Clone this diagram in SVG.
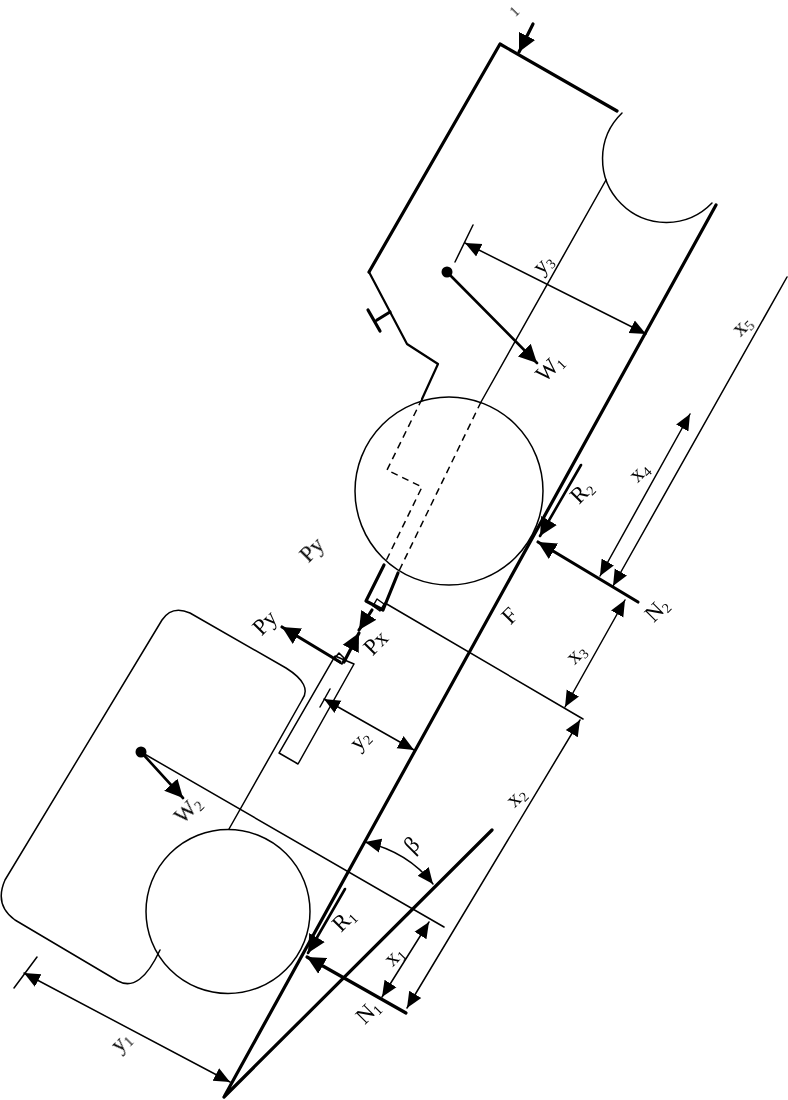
<svg xmlns="http://www.w3.org/2000/svg" width="788" height="1100" viewBox="0 0 788 1100">
<defs>
<style>
.t{fill:none;stroke:#000;stroke-width:1.5;stroke-linecap:round;stroke-linejoin:round}
.k{fill:none;stroke:#000;stroke-width:3.2;stroke-linecap:round;stroke-linejoin:round}
.m{fill:none;stroke:#000;stroke-width:2.6;stroke-linecap:round;stroke-linejoin:round}
.d{stroke-dasharray:7 5;stroke-linecap:butt}
.a{marker-end:url(#h);marker-start:url(#h)}
.e{marker-end:url(#h)}
.f{marker-end:url(#H)}
text{font-family:"Liberation Serif","Times New Roman",serif;font-size:23px;fill:#000;text-anchor:middle}
.s{font-size:14px}
#labels{opacity:.99}
</style>
<marker id="h" markerUnits="userSpaceOnUse" markerWidth="18" markerHeight="18" viewBox="0 0 18 18" refX="16" refY="9" orient="auto-start-reverse"><path d="M0 2L16 9L0 16Z"/></marker>
<marker id="H" markerUnits="userSpaceOnUse" markerWidth="20" markerHeight="20" viewBox="0 0 20 20" refX="18" refY="10" orient="auto"><path d="M0 1L18 10L0 19Z"/></marker>
</defs>
<g id="upper-body">
<path class="k" d="M617 111L500 44L369 272"/>
<path class="m" d="M369 272L407 344L438 364L422 399" style="stroke-width:2.2"/>
<path class="t" d="M622 113A63.65 63.65 0 1 0 712 203"/>
<path class="k" d="M390 312L377 320M368 310L380 331"/>
<circle class="t" cx="449" cy="491" r="94"/>
<path class="t" d="M606 180L481 402"/>
<path class="t d" d="M481 402L398 573M422 399L387 470L422 487L384 565"/>
<path class="k" d="M384 565L366 601L383 610L398 573"/>
<path class="t" d="M377 599L384 604L380 611L373 606Z"/>
<circle cx="447" cy="272" r="5.5"/>
</g>
<g id="lower-body">
<path class="t" d="M190 613L286 668Q313 685 302 700L229 829M190 613Q172 605 162 620L5 880Q-6 905 15 920L118 981Q140 993 160 950"/>
<circle class="t" cx="228" cy="911.5" r="82"/>
<path class="t" d="M335 656L354 664L298 764L279 753Z"/>
<path class="t" d="M339 653L344 658L342 664L334 659Z"/>
<circle cx="141" cy="752" r="5.5"/>
</g>
<g id="incline">
<path class="k" d="M716 205L224 1097L492 830"/>
</g>
<g id="connectors">
<path class="k f" d="M533 24L519 52"/>
<path class="t a" d="M465 243L646 334"/>
<path class="t" d="M473 225L455 262M330 689L320 707M14 988L37 957"/>
<path class="m f" d="M447 272L537 363"/>
<path class="t a" d="M690 414L600 576"/>
<path class="t e" d="M787 277L613 586"/>
<path class="m f" d="M581 465L540 536"/>
<path class="k f" d="M638 602L538 542"/>
<path class="t" d="M385 603L583 719"/>
<path class="t a" d="M625 600L565 707"/>
<path class="t a" d="M580 720L407 1008"/>
<path class="k f" d="M372 610L359 630"/>
<path class="k f" d="M344 662L359 633"/>
<path class="k f" d="M340 662L282 627"/>
<path class="t a" d="M324 699L414 750"/>
<path class="m f" d="M141 752L183 798"/>
<path class="t" d="M141 752L444 927"/>
<path class="t a" d="M365 842Q408 852 433 884"/>
<path class="m f" d="M345 889L308 953"/>
<path class="k f" d="M406 1013L307 957"/>
<path class="t a" d="M429 922L382 997"/>
<path class="t a" d="M24 973L230 1082"/>
</g>
<g id="labels">
<text transform="translate(518 15) rotate(-45)" class="s">1</text>
<text transform="translate(548 269) rotate(-45)">y<tspan class="s" dy="3">3</tspan></text>
<text transform="translate(555 373) rotate(-45)">W<tspan class="s" dy="3">1</tspan></text>
<text transform="translate(747 331) rotate(-45)">x<tspan class="s" dy="3">5</tspan></text>
<text transform="translate(587 497) rotate(-45)">R<tspan class="s" dy="3">2</tspan></text>
<text transform="translate(644 477) rotate(-45)">x<tspan class="s" dy="3">4</tspan></text>
<text transform="translate(317 555) rotate(-45)">Py</text>
<text transform="translate(515 621) rotate(-45)">F</text>
<text transform="translate(662 615) rotate(-45)">N<tspan class="s" dy="3">2</tspan></text>
<text transform="translate(381 648) rotate(-45)">Px</text>
<text transform="translate(270 628) rotate(-45)">Py</text>
<text transform="translate(581 659) rotate(-45)">x<tspan class="s" dy="3">3</tspan></text>
<text transform="translate(365 745) rotate(-45)">y<tspan class="s" dy="3">2</tspan></text>
<text transform="translate(521 802) rotate(-45)">x<tspan class="s" dy="3">2</tspan></text>
<text transform="translate(193 815) rotate(-45)">W<tspan class="s" dy="3">2</tspan></text>
<text transform="translate(417 850) rotate(-45)">β</text>
<text transform="translate(349 925) rotate(-45)">R<tspan class="s" dy="3">1</tspan></text>
<text transform="translate(399 961) rotate(-45)">x<tspan class="s" dy="3">1</tspan></text>
<text transform="translate(373 1017) rotate(-45)">N<tspan class="s" dy="3">1</tspan></text>
<text transform="translate(126 1047) rotate(-45)">y<tspan class="s" dy="3">1</tspan></text>
</g>
</svg>
